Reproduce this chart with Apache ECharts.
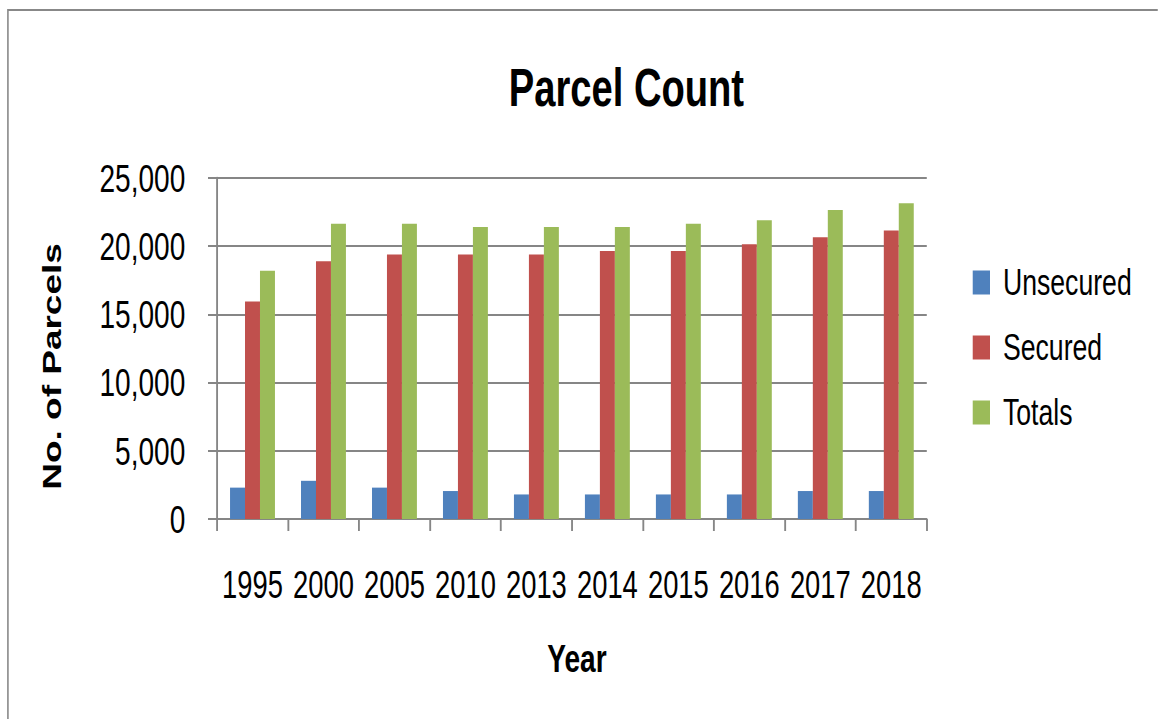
<!DOCTYPE html>
<html><head><meta charset="utf-8">
<script src="https://cdn.jsdelivr.net/npm/echarts@6/dist/echarts.min.js"></script>
<style>
html,body{margin:0;padding:0;background:#fff;overflow:hidden;width:1158px;height:719px;}
#c{width:1608px;height:719px;transform:scaleX(0.72);transform-origin:0 0;}
</style>
</head><body><div id="c"></div>
<script>
const years = ['1995','2000','2005','2010','2013','2014','2015','2016','2017','2018'];
const unsecured = [2300, 2800, 2300, 2050, 1800, 1800, 1800, 1800, 2050, 2050];
const secured = [15950, 18900, 19400, 19400, 19400, 19650, 19650, 20150, 20650, 21150];
const totals = [18200, 21650, 21650, 21400, 21400, 21400, 21650, 21900, 22650, 23150];
const yTicks = [0, 5000, 10000, 15000, 20000, 25000];

// The reference is a horizontally condensed rendering; the whole chart is laid out
// in a wider frame and condensed by CSS (scaleX 0.72) to reproduce that look.
const FONT = "'Liberation Sans', Arial, sans-serif";
const GRID = '#868686';
const chart = echarts.init(document.getElementById('c'), null, {renderer:'svg'});
chart.setOption({
  animation: false,
  backgroundColor: '#fff',
  graphic: [{type:'rect', shape:{x:11,y:10,width:1700,height:900}, style:{fill:'none', stroke:'#888', lineWidth:2.2}, z:-1}],
  title: {text:'Parcel Count', left:865, top:56, textAlign:'center',
    textStyle:{fontFamily:FONT, fontWeight:'bold', fontSize:53, color:'#000'}},
  legend: {orient:'vertical', left:1346, top:259, itemWidth:24, itemHeight:24, itemGap:28,
    icon:'rect', textStyle:{fontFamily:FONT, fontSize:37, color:'#000', lineHeight:24, padding:[0,0,0,13]}},
  grid: {left:301.4, right:320.8, top:178, bottom:200, containLabel:false},
  xAxis: {type:'category', data:years, name:'Year', nameLocation:'middle', nameGap:120,
    nameTextStyle:{fontFamily:FONT, fontWeight:'bold', fontSize:39, color:'#000', padding:[0,0,0,14]},
    axisLine:{lineStyle:{color:GRID, width:2}},
    axisTick:{show:true, length:12, lineStyle:{color:GRID, width:2.6}},
    axisLabel:{fontFamily:FONT, fontSize:38, color:'#000', margin:47, interval:0}},
  yAxis: {type:'value', min:yTicks[0], max:yTicks[yTicks.length-1], interval:5000,
    name:'No. of Parcels', nameLocation:'middle', nameRotate:90, nameGap:211,
    nameTextStyle:{fontFamily:FONT, fontWeight:'bold', fontSize:37, color:'#000', padding:[0,36,0,0]},
    axisLine:{show:true, lineStyle:{color:GRID, width:2.6}},
    axisTick:{show:true, length:12.5, lineStyle:{color:GRID, width:2}},
    splitLine:{lineStyle:{color:GRID, width:2}},
    axisLabel:{fontFamily:FONT, fontSize:39, color:'#000', margin:44,
      formatter: v => v.toLocaleString('en-US')}},
  series: [
    {name:'Unsecured', type:'bar', data:unsecured, barWidth:20.8, barGap:'0%', itemStyle:{color:'#4F81BD'}},
    {name:'Secured', type:'bar', data:secured, barWidth:20.8, barGap:'0%', itemStyle:{color:'#C0504D'}},
    {name:'Totals', type:'bar', data:totals, barWidth:20.8, barGap:'0%', itemStyle:{color:'#9BBB59'}}
  ]
});
</script></body></html>
